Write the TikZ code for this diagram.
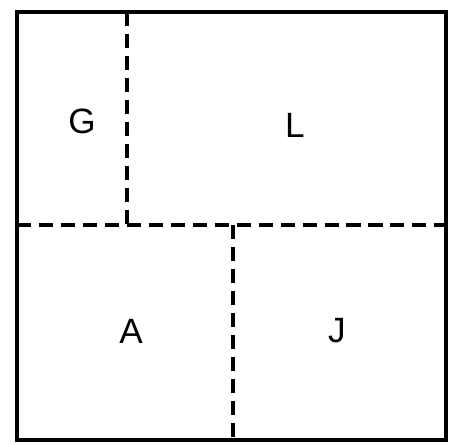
\documentclass[tikz,border=0pt]{standalone}
\usepackage{fontspec}
\setmainfont{Liberation Sans}
\usepackage{tikz}
\usetikzlibrary{positioning}

\begin{document}
\begin{tikzpicture}[
  wall/.style={line width=2.3pt},
  split/.style={line width=1.8pt, dash pattern=on 8pt off 4.5pt},
  region/.style={font=\fontsize{20}{22}\selectfont}
]
  \useasboundingbox (0,0) rectangle (9.12,-8.9);
  % outer frame
  \draw[wall] (0.34,-0.24) rectangle (8.92,-8.8);
  % dividing lines
  \draw[split] (0.34,-4.5) -- (8.92,-4.5);
  \draw[split] (2.54,-0.24) -- (2.54,-4.5);
  \draw[split] (4.66,-4.5) -- (4.66,-8.8);
  % region labels
  \node[region] (g) at (1.64,-2.42) {G};
  \node[region] (l) at (5.9,-2.5) {L};
  \node[region] (a) at (2.62,-6.62) {A};
  \node[region] (j) at (6.74,-6.62) {J};
\end{tikzpicture}
\end{document}
